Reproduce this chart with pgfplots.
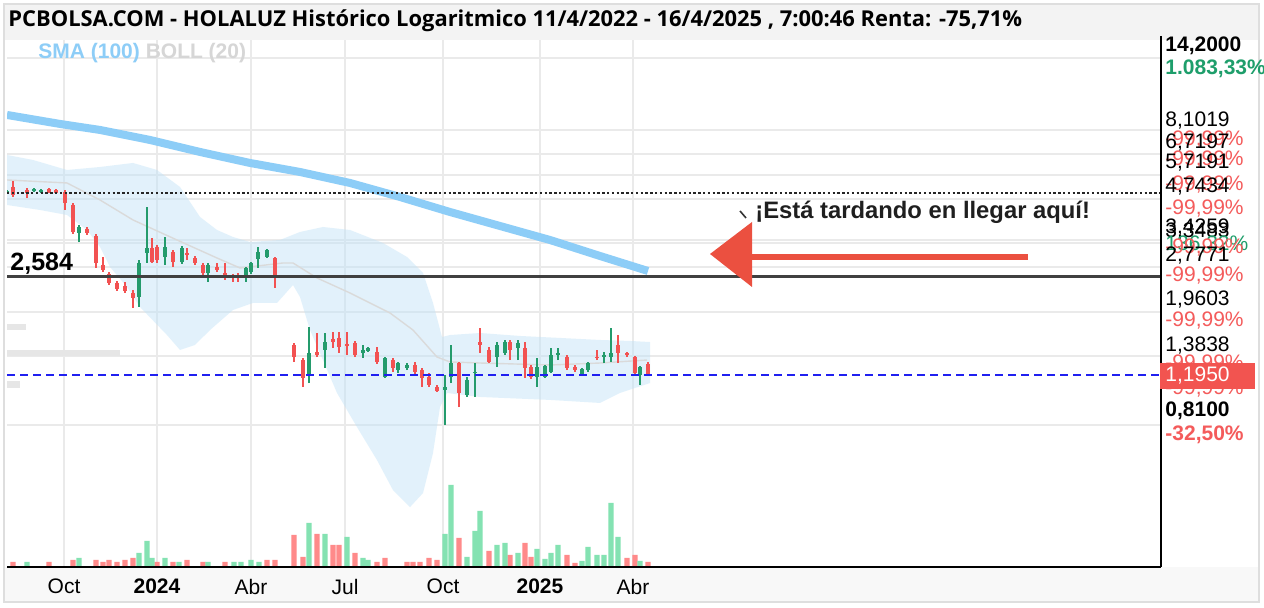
\documentclass[border=0pt]{standalone}
\usepackage{pgfplots}
\pgfplotsset{compat=1.18}
\usepackage{pgfplotstable}
\usepackage{fontspec}
\setmainfont{Liberation Sans}
\newfontfamily\titlefont{Open Sans}

\definecolor{cred}{HTML}{F25252}
\definecolor{cgreen}{HTML}{249B6C}
\definecolor{vred}{HTML}{FF8A8A}
\definecolor{vgreen}{HTML}{84E2B2}
\definecolor{sma}{HTML}{8DCDF7}
\definecolor{bandc}{HTML}{BFE2F8}
\definecolor{midc}{HTML}{DADADA}
\definecolor{gridc}{HTML}{EAEAEA}
\definecolor{pctred}{HTML}{F45B5B}
\definecolor{pctgreen}{HTML}{1E9E6B}
\definecolor{arrowred}{HTML}{EB5040}
\definecolor{boxred}{HTML}{F25450}
\definecolor{framec}{HTML}{DEDEDE}
\definecolor{titlebg}{HTML}{F3F3F3}
\definecolor{stripbg}{HTML}{F8F8F8}
\definecolor{refblue}{HTML}{2020F0}
\definecolor{profile}{HTML}{E6E6E6}

% weekly candles: x position, low, body bottom, body top, high
\pgfplotstableread{
x lo bot top hi
13 4.803 4.879 5.193 5.442
27 4.766 4.955 5.073 5.153
49 4.955 4.994 5.112 5.153
56 4.917 4.955 5.073 5.112
65 4.339 4.583 4.994 5.073
73 3.598 3.655 4.512 4.583
87 3.570 3.626 3.741 3.800
96 2.759 2.869 3.542 3.598
103 2.674 2.717 2.825 3.007
109 2.416 2.455 2.633 2.674
117 2.306 2.342 2.455 2.493
125 2.270 2.306 2.398 2.474
133 2.019 2.183 2.270 2.324
152 2.869 2.891 3.225 3.487
157 2.869 2.937 3.251 3.302
173 2.781 2.891 3.126 3.176
187 2.937 3.054 3.102 3.225
195 2.825 2.869 2.983 3.030
203 2.572 2.654 2.825 2.869
217 2.674 2.717 2.781 2.869
225 2.513 2.552 2.654 2.869
233 2.474 2.552 2.592 2.633
238 2.474 2.545 2.580 2.654
275 2.360 2.572 2.983 3.007
294 1.325 1.377 1.513 1.536
303 1.090 1.169 1.345 1.367
317 1.377 1.399 1.432 1.661
333 1.478 1.548 1.585 1.674
339 1.421 1.489 1.598 1.674
347 1.399 1.505 1.530 1.674
355 1.377 1.399 1.536 1.561
377 1.304 1.325 1.432 1.489
393 1.225 1.264 1.345 1.367
415 1.197 1.225 1.294 1.325
422 1.090 1.169 1.244 1.264
429 1.090 1.107 1.178 1.216
437 1.048 1.056 1.090 1.107
459 0.932 1.040 1.314 1.325
480 1.421 1.513 1.548 1.727
489 1.314 1.325 1.455 1.489
510 1.345 1.455 1.548 1.573
525 1.169 1.264 1.478 1.548
531 1.160 1.178 1.274 1.294
567 1.244 1.264 1.377 1.399
575 1.225 1.244 1.274 1.294
597 1.345 1.367 1.377 1.455
618 1.314 1.421 1.513 1.635
627 1.377 1.399 1.421 1.432
635 1.197 1.216 1.377 1.388
648 1.187 1.195 1.304 1.325
}\redcandles

\pgfplotstableread{
x lo bot top hi
7 4.917 4.955 5.033 5.073
34 4.994 5.033 5.112 5.153
41 4.955 4.994 5.073 5.112
79 3.380 3.626 3.800 3.860
139 2.035 2.200 2.869 2.937
147 2.869 3.102 3.225 4.442
165 2.825 3.007 3.251 3.515
182 2.847 2.891 3.225 3.276
208 2.474 2.654 2.825 2.869
246 2.474 2.552 2.759 2.781
251 2.633 2.674 2.869 2.891
258 2.759 2.960 3.126 3.251
267 2.983 3.007 3.176 3.200
309 1.124 1.197 1.421 1.741
325 1.264 1.455 1.548 1.661
363 1.367 1.421 1.455 1.513
368 1.432 1.444 1.478 1.489
385 1.169 1.178 1.367 1.377
398 1.216 1.244 1.314 1.325
407 1.244 1.264 1.294 1.314
445 0.810 1.065 1.090 1.197
451 1.124 1.178 1.314 1.513
467 1.008 1.024 1.151 1.178
475 1.008 1.216 1.225 1.314
497 1.274 1.377 1.513 1.548
505 1.399 1.421 1.548 1.573
518 1.345 1.478 1.536 1.573
537 1.090 1.178 1.274 1.367
545 1.169 1.178 1.284 1.294
551 1.216 1.225 1.399 1.478
558 1.345 1.399 1.421 1.478
582 1.187 1.197 1.254 1.264
588 1.225 1.244 1.314 1.325
604 1.314 1.377 1.399 1.432
611 1.325 1.377 1.421 1.727
640 1.107 1.197 1.274 1.284
}\greencandles

\pgfplotstableread{
x v
13 5000
49 5000
73 7000
96 7000
103 5000
109 7000
117 5000
125 7000
133 9000
157 5000
173 5000
187 7000
203 5000
225 5000
267 7000
275 7000
294 32000
303 10000
317 33000
333 22000
339 22000
355 14000
377 5000
385 9000
407 5000
413 5000
420 5000
429 9000
437 7000
459 29000
489 16000
510 12000
525 24000
531 10000
567 12000
575 4000
627 9000
635 12000
648 5000
}\redvol

\pgfplotstableread{
x v
27 5000
79 9000
139 14000
147 26000
152 9000
165 9000
179 5000
208 5000
234 5000
241 5000
251 7000
259 5000
309 44000
325 33000
347 30000
363 9000
368 7000
445 33000
451 82000
467 10000
475 36000
480 56000
497 22000
505 24000
518 14000
537 18000
545 8000
551 14000
558 22000
582 6000
588 20000
597 12000
604 12000
611 64000
618 30000
640 6000
}\greenvol

\pgfplotstableread{
x p
7 9.112
60 8.494
100 8.105
150 7.496
200 6.826
250 6.264
300 5.838
350 5.358
400 4.803
450 4.272
500 3.830
550 3.433
600 3.030
648 2.695
}\smatab

% Bollinger envelope: upper band left to right, then lower band right to left
\pgfplotstableread{
x p
7 6.667
33 6.412
67 5.930
100 6.070
133 6.264
157 5.930
180 5.193
200 4.109
217 3.712
233 3.515
250 3.380
280 3.433
300 3.655
323 3.800
350 3.712
383 3.354
407 3.007
423 2.654
433 2.100
442 1.610
450 1.635
480 1.661
520 1.623
560 1.598
600 1.573
630 1.561
650 1.548
650 1.124
620 1.040
600 0.962
550 0.985
480 1.008
447 1.040
440 0.932
433 0.651
423 0.476
410 0.4267
393 0.487
377 0.616
357 0.797
337 1.040
323 1.345
310 1.700
300 2.200
293 2.416
277 2.100
253 2.100
233 1.988
210 1.700
195 1.513
180 1.455
167 1.635
140 2.035
127 2.379
110 2.781
100 3.251
87 3.712
67 4.173
40 4.339
7 4.512
}\bollband

\pgfplotstableread{
x p
7 5.485
67 5.358
100 4.692
133 4.014
177 3.433
217 2.983
240 2.759
283 2.869
293 2.869
317 2.552
350 2.270
390 1.942
413 1.700
437 1.377
450 1.325
480 1.314
550 1.294
600 1.314
647 1.345
}\bollmid

\pgfplotsset{
  chartbox/.style={
    at={(3.5pt,20.5pt)}, anchor=south west,
    width=576.5pt, height=263.5pt, scale only axis,
    xmin=7, xmax=1160,
    axis line style={draw=none}, tick style={draw=none},
    grid style={gridc, line width=1pt},
  },
  wick/.style={draw=none, mark=none, forget plot,
    error bars/.cd, y dir=plus, y explicit, error mark=none,
    error bar style={draw=#1, line width=0.75pt}},
  body/.style={draw=none, mark=none, forget plot,
    error bars/.cd, y dir=plus, y explicit, error mark=none,
    error bar style={draw=#1, line width=2.4pt, line cap=butt}},
}

\begin{document}
\begin{tikzpicture}
\useasboundingbox (0,0) rectangle (632pt,304pt);
\begin{scope}[x=0.5pt,y=-0.5pt,yshift=304pt]
  \fill[white] (0,0) rectangle (1264,608);
  \fill[titlebg] (5,5) rectangle (1258,40);
  \fill[stripbg] (5,567) rectangle (1258,601);
  \draw[framec, line width=1pt] (4,4) rectangle (1259,602);
\end{scope}

% volume pane and date axis
\begin{axis}[chartbox,
    ymin=0, ymax=527000, ytick=\empty,
    xtick={64,157,251,345,443,540,633},
    xticklabels={Oct,\textbf{2024},Abr,Jul,Oct,\textbf{2025},Abr},
    xmajorgrids,
    xticklabel style={font=\fontsize{10.5}{12}\selectfont, yshift=-2.5pt},
  ]
  \addplot[ybar, bar width=2.6pt, bar shift=0pt, fill=vred, draw=none] table[x=x, y=v] {\redvol};
  \addplot[ybar, bar width=2.6pt, bar shift=0pt, fill=vgreen, draw=none] table[x=x, y=v] {\greenvol};
\end{axis}

% price pane, logarithmic
\begin{axis}[chartbox,
    ymode=log, ymin=0.26733, ymax=16.36,
    xtick=\empty,
    ytick={0.81,1.3838,1.9603,2.7771,3.3483,3.4259,4.7434,5.7191,6.7197,8.1019,14.2},
    yticklabels={},
    ymajorgrids,
  ]
  % volume-by-price stubs at the left edge
  \addplot[fill=profile, draw=none] coordinates {(7,1.78) (26,1.78) (26,1.70) (7,1.70)} -- cycle;
  \addplot[fill=profile, draw=none] coordinates {(7,1.45) (120,1.45) (120,1.39) (7,1.39)} -- cycle;
  \addplot[fill=profile, draw=none] coordinates {(7,1.14) (20,1.14) (20,1.08) (7,1.08)} -- cycle;

  \addplot[fill=bandc, fill opacity=0.45, draw=none] table[x=x, y=p] {\bollband} -- cycle;
  \addplot[midc, line width=0.7pt] table[x=x, y=p] {\bollmid};
  \addplot[sma, line width=4pt] table[x=x, y=p] {\smatab};

  \addplot[wick=cred] table[x=x, y=lo, y error plus expr=\thisrow{hi}-\thisrow{lo}] {\redcandles};
  \addplot[body=cred] table[x=x, y=bot, y error plus expr=\thisrow{top}-\thisrow{bot}] {\redcandles};
  \addplot[wick=cgreen] table[x=x, y=lo, y error plus expr=\thisrow{hi}-\thisrow{lo}] {\greencandles};
  \addplot[body=cgreen] table[x=x, y=bot, y error plus expr=\thisrow{top}-\thisrow{bot}] {\greencandles};

  \addplot[black!85, line width=1.1pt, dash pattern=on 1.2pt off 1.2pt] coordinates {(7,4.96) (1160,4.96)};
  \addplot[black!75, line width=1.4pt] coordinates {(7,2.584) (1160,2.584)};
  \addplot[refblue, line width=1.1pt, dash pattern=on 4pt off 2.5pt] coordinates {(7,1.195) (1160,1.195)};
\end{axis}

\begin{scope}[x=0.5pt,y=-0.5pt,yshift=304pt,
    lbl/.style={anchor=west, inner sep=0pt, font=\fontsize{10.5}{12}\selectfont}]
  \draw[black, line width=1pt] (7,567) -- (1161,567);
  \draw[black, line width=1pt] (1161,36) -- (1161,567.5);

  \node[anchor=west, inner sep=0pt, font=\titlefont\bfseries\fontsize{10.95}{12}\selectfont]
    at (8,21) {PCBOLSA.COM - HOLALUZ Histórico Logaritmico 11/4/2022 - 16/4/2025 , 7:00:46 Renta: -75,71\%};
  \node[anchor=west, inner sep=0pt, font=\bfseries\fontsize{10.5}{12}\selectfont]
    at (38,53) {\textcolor{sma}{SMA (100)} \textcolor{black!16}{BOLL (20)}};
  \node[anchor=west, inner sep=0pt, font=\bfseries\fontsize{12.5}{14}\selectfont] at (10,264) {2,584};

  \fill[arrowred] (710,254) -- (752,222) -- (752,287) -- cycle;
  \draw[arrowred, line width=3pt] (748,257) -- (1028,257);
  \draw[black!80, line width=0.8pt] (740,211) -- (746,218);
  \node[anchor=west, inner sep=0pt, text=black!88, font=\bfseries\fontsize{11.9}{14}\selectfont]
    at (755,212) {¡Está tardando en llegar aquí!};

  \node[lbl] at (1165,46) {\bfseries 14,2000};
  \node[lbl, text=pctgreen] at (1165,69) {\bfseries 1.083,33\%};
  \node[lbl] at (1165,121) {8,1019};
  \node[lbl, text=pctred] at (1165,140) {-99,99\%};
  \node[lbl] at (1165,143) {6,7197};
  \node[lbl, text=pctred] at (1165,160) {-99,99\%};
  \node[lbl] at (1165,163) {5,7191};
  \node[lbl, text=pctred] at (1165,185) {-99,99\%};
  \node[lbl] at (1165,187) {4,7434};
  \node[lbl, text=pctred] at (1165,209) {-99,99\%};
  \node[lbl] at (1165,228) {3,4259};
  \node[lbl] at (1165,232) {3,3483};
  \node[lbl, text=pctgreen] at (1165,245) {136,32\%};
  \node[lbl, text=pctred] at (1165,248) {-99,99\%};
  \node[lbl] at (1165,256) {2,7771};
  \node[lbl, text=pctred] at (1165,276) {-99,99\%};
  \node[lbl] at (1165,300) {1,9603};
  \node[lbl, text=pctred] at (1165,321) {-99,99\%};
  \node[lbl] at (1165,346) {1,3838};
  \node[lbl, text=pctred] at (1165,364) {-99,99\%};
  \node[lbl, text=pctred] at (1165,389) {-99,99\%};
  \fill[boxred] (1160,363) rectangle (1255,389);
  \node[lbl, text=white] at (1165,376) {1,1950};
  \node[lbl] at (1165,411) {\bfseries 0,8100};
  \node[lbl, text=pctred] at (1165,435) {\bfseries -32,50\%};
\end{scope}
\end{tikzpicture}
\end{document}
